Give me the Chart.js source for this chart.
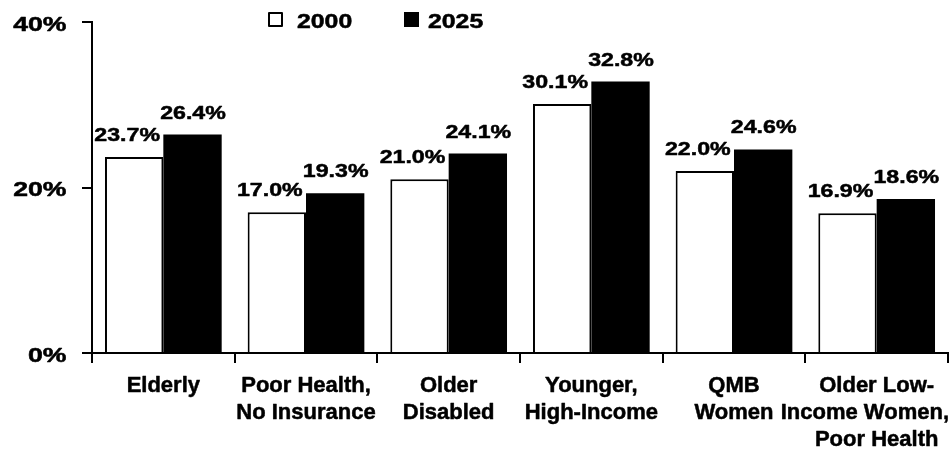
<!DOCTYPE html>
<html><head><meta charset="utf-8">
<script src="https://cdn.jsdelivr.net/npm/chart.js@4/dist/chart.umd.min.js"></script>
<style>html,body{margin:0;padding:0;background:#fff}#wrap{width:951px;height:451px}</style>
</head><body><div id="wrap"><canvas id="c" width="951" height="451"></canvas></div>
<script>
const categories = [["Elderly"],["Poor Health,","No Insurance"],["Older","Disabled"],["Younger,","High-Income"],["QMB","Women"],["Older Low-","Income Women,","Poor Health"]];
const seriesNames = ["2000","2025"];
const values2000 = [23.7,17.0,21.0,30.1,22.0,16.9];
const values2025 = [26.4,19.3,24.1,32.8,24.6,18.6];
const yTickValues = [0,20,40];

const FONT = "'Liberation Sans', Arial, Helvetica, sans-serif";

function boldText(ctx, text, x, y) {
  ctx.fillText(text, x, y);
  ctx.strokeText(text, x, y);
}

function stretchText(ctx, text, x, y, sx, align) {
  ctx.save();
  ctx.translate(x, y);
  ctx.scale(sx, 1);
  ctx.textAlign = align;
  boldText(ctx, text, 0, 0);
  ctx.restore();
}

const textPlugin = {
  id: 'textPlugin',
  afterDraw(chart){
    const ctx = chart.ctx;
    ctx.save();
    ctx.fillStyle = '#000';
    ctx.strokeStyle = '#000';
    ctx.lineWidth = 0.5;
    ctx.lineJoin = 'round';
    ctx.textBaseline = 'alphabetic';
    // y tick labels
    const ys = chart.scales.y;
    ctx.font = 'bold 20px ' + FONT;
    ys.ticks.forEach(t => {
      stretchText(ctx, t.value + '%', 66.5, ys.getPixelForValue(t.value) + 8.5, 1.33, 'right');
    });
    // x category labels
    const xs = chart.scales.x;
    ctx.font = 'bold 22px ' + FONT;
    ctx.textAlign = 'center';
    chart.data.labels.forEach((lab, i) => {
      const cx = xs.getPixelForTick(i);
      lab.forEach((line, li) => {
        const w = ctx.measureText(line).width;
        const x = Math.min(cx, 949 - w / 2);
        boldText(ctx, line, x, 392 + li * 27);
      });
    });
    // data labels
    ctx.font = 'bold 19px ' + FONT;
    chart.data.datasets.forEach((ds, di) => {
      const meta = chart.getDatasetMeta(di);
      meta.data.forEach((el, i) => {
        const off = di === 0 ? -7 : 0.5;
        stretchText(ctx, ds.data[i].toFixed(1) + '%', el.x + off, el.y - 16, 1.22, 'center');
      });
    });
    // legend
    const legendX = [268, 404];
    ctx.font = 'bold 20px ' + FONT;
    chart.data.datasets.forEach((ds, di) => {
      const x = legendX[di];
      ctx.fillStyle = ds.backgroundColor;
      ctx.fillRect(x, 12, 15, 15);
      ctx.save();
      ctx.lineWidth = 2;
      ctx.strokeRect(x + 1, 13, 13, 13);
      ctx.restore();
      ctx.fillStyle = '#000';
      stretchText(ctx, ds.label, x + (di === 0 ? 29 : 24), 28, 1.24, 'left');
    });
    ctx.restore();
  }
};

new Chart(document.getElementById('c'), {
  type: 'bar',
  data: {
    labels: categories,
    datasets: [
      { label: seriesNames[0], data: values2000, backgroundColor: '#ffffff', borderColor: '#000000', borderWidth: 2 },
      { label: seriesNames[1], data: values2025, backgroundColor: '#000000', borderColor: '#000000', borderWidth: 0 }
    ]
  },
  options: {
    responsive: false,
    animation: false,
    devicePixelRatio: 1,
    datasets: { bar: { categoryPercentage: 0.818, barPercentage: 1.0 } },
    layout: { padding: { top: 22, right: 3, left: 0, bottom: 0 } },
    plugins: { legend: { display: false }, tooltip: { enabled: false }, title: { display: false } },
    scales: {
      x: {
        afterFit(s){ s.height = 98; s.paddingLeft = 0; s.paddingRight = 0; },
        grid: { offset: true, drawOnChartArea: false, drawTicks: true, tickLength: 10, color: '#000', lineWidth: 2 },
        border: { display: true, color: '#000', width: 2 },
        ticks: { display: false, autoSkip: false }
      },
      y: {
        min: 0, max: 40,
        afterFit(s){ s.width = 92; s.paddingTop = 0; s.paddingBottom = 0; },
        afterBuildTicks(s){ s.ticks = yTickValues.map(v => ({ value: v })); },
        grid: { drawOnChartArea: false, drawTicks: true, tickLength: 10, color: '#000', lineWidth: 2 },
        border: { display: true, color: '#000', width: 2 },
        ticks: { display: false }
      }
    }
  },
  plugins: [textPlugin]
});
</script>
</body></html>
